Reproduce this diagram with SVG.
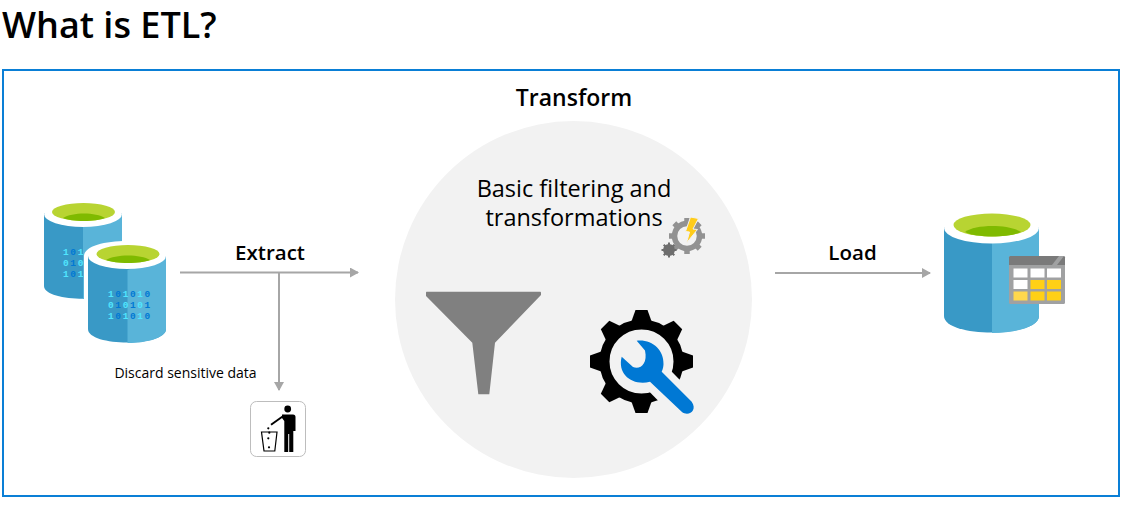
<svg xmlns="http://www.w3.org/2000/svg" xmlns:xlink="http://www.w3.org/1999/xlink" width="1128" height="507" viewBox="0 0 1128 507">
<style>
text{font-family:"Open Sans","Noto Sans","Liberation Sans",sans-serif;fill:#000}
.c{text-anchor:middle}
.lbl{font-size:20.5px;font-weight:600}
.body{font-size:23.500px}
.bin{font-family:"Liberation Mono",monospace;font-size:9.500px;font-weight:700;letter-spacing:1.600px;fill:#50e6ff}
.b{fill:#0078d4}
.conn{stroke:#a6a6a6;stroke-width:2;fill:none}
</style>
<defs>
<marker id="arr" markerUnits="userSpaceOnUse" markerWidth="9" markerHeight="10" refX="8" refY="5" orient="auto"><path d="M0 0L9 5L0 10z" fill="#a6a6a6"/></marker>
</defs>
<rect width="1128" height="507" fill="#fff"/>
<text id="title" x="2" y="38" font-size="36" font-weight="600">What is ETL?</text>
<rect id="frame" x="3" y="70" width="1116" height="426" fill="none" stroke="#0a7fd6" stroke-width="2"/>
<g id="transform">
<circle cx="573.500" cy="299.500" r="178.500" fill="#f2f2f2"/>
<text class="c" x="574" y="106" font-size="23" font-weight="600">Transform</text>
<text class="c body" x="574" y="197">Basic filtering and</text>
<text class="c body" x="574" y="226">transformations</text>
</g>
<g id="funnel"><path d="M426.500 291.700H540.300Q541 291.700 541 293V295L495 342.700L489.300 394.300H478.300L472.300 342.700L426 296V293Q426 291.700 426.500 291.700z" fill="#808080"/></g>
<g id="gear-tools">
<g fill="#000">
<circle cx="641.500" cy="361.500" r="37" fill="none" stroke="#000" stroke-width="10"/>
<path id="tooth" d="M630.500 324L635.500 310H647.500L652.500 324z"/>
<use xlink:href="#tooth" href="#tooth" transform="rotate(45 641.500 361.500)"/>
<use xlink:href="#tooth" href="#tooth" transform="rotate(90 641.500 361.500)"/>
<use xlink:href="#tooth" href="#tooth" transform="rotate(135 641.500 361.500)"/>
<use xlink:href="#tooth" href="#tooth" transform="rotate(180 641.500 361.500)"/>
<use xlink:href="#tooth" href="#tooth" transform="rotate(225 641.500 361.500)"/>
<use xlink:href="#tooth" href="#tooth" transform="rotate(270 641.500 361.500)"/>
<use xlink:href="#tooth" href="#tooth" transform="rotate(315 641.500 361.500)"/>
</g>
<path d="M655 376L700 422" stroke="#f2f2f2" stroke-width="30" fill="none"/>
<path d="M636.700 340.700C652 339 664 350 663.500 364C663.400 366.500 663 369 661.700 371.700L691.700 401.700C698 411 688 417 681.700 411.700L650 381.700C633 386 617 375 621.700 356.700L633 367C640 370 648 364 645 350.500z" fill="#0078d4"/>
</g>
<g id="automation">
<g fill="none" stroke="#929292">
<circle cx="687" cy="236" r="12.500" stroke-width="5.500"/>
<path d="M687 218V223M687 249V254M669 236H674M700 236H705M674.300 223.300L678 227M696 245L699.700 248.700M674.300 248.700L678 245M696 227L699.700 223.300" stroke-width="5.500"/>
</g>
<g fill="none" stroke="#6e6e6e">
<circle cx="669" cy="250" r="4.200" stroke-width="3.500"/>
<path d="M669 242.500V257.500M661.500 250H676.500M663.700 244.700L674.300 255.300M663.700 255.300L674.300 244.700" stroke-width="2"/>
</g>
<path d="M690.500 217L698.500 218.500L693 229L697.500 229.500L686.500 243L689.500 232L685.500 231.500z" fill="#ffcc1a" stroke="#f2f2f2" stroke-width="1"/>
</g>
<g id="source-db">
<path d="M44 213V286C44 303 122 303 122 286V213z" fill="#3999c6"/>
<path d="M83 227V299C105 299 122 294 122 286V213z" fill="#59b4d9"/>
<text class="bin" y="255" x="63">1<tspan class="b">0</tspan>1</text>
<text class="bin" y="266" x="63">0<tspan class="b">1</tspan>0</text>
<text class="bin" y="277" x="63">1<tspan class="b">0</tspan>1</text>
<ellipse cx="83" cy="214" rx="39" ry="13" fill="#fff"/>
<ellipse cx="83.500" cy="212" rx="31.500" ry="9" fill="#b8d432"/>
<path d="M63 218C72 212 96 212 105 218C96 222 72 222 63 218z" fill="#7fba00"/>
<path d="M84 256V330C84 350 170 350 170 330V256C170 236 84 236 84 256z" fill="#fff"/>
<path d="M88 256V329C88 347 166 347 166 329V256z" fill="#3999c6"/>
<path d="M127.500 270V343C149 343 166 337 166 329V256z" fill="#59b4d9"/>
<text class="bin" y="297" x="108">1<tspan class="b">0</tspan>1<tspan class="b">0</tspan>1<tspan class="b">0</tspan></text>
<text class="bin" y="308" x="108">0<tspan class="b">1</tspan>0<tspan class="b">1</tspan>0<tspan class="b">1</tspan></text>
<text class="bin" y="319" x="108">1<tspan class="b">0</tspan>1<tspan class="b">0</tspan>1<tspan class="b">0</tspan></text>
<ellipse cx="127" cy="256" rx="39" ry="13" fill="#fff"/>
<ellipse cx="128" cy="254" rx="31.500" ry="9" fill="#b8d432"/>
<path d="M106 260C115 254 141 254 150 260C141 264 115 264 106 260z" fill="#7fba00"/>
</g>
<g id="target-db">
<path d="M944 227V316C944 338 1039 338 1039 316V227z" fill="#3999c6"/>
<path d="M992 243V333C1018 333 1039 326 1039 316V227z" fill="#59b4d9"/>
<ellipse cx="991.500" cy="228" rx="47.500" ry="15.500" fill="#fff"/>
<ellipse cx="992" cy="225" rx="38.500" ry="11.500" fill="#b8d432"/>
<path d="M965 232C975 224 1009 224 1021 232C1009 238 975 238 965 232z" fill="#7fba00"/>
<rect x="1009" y="256" width="56" height="48" rx="1.500" fill="#a0a1a2"/>
<path d="M1009 265V257.500Q1009 256 1010.500 256H1063.500Q1065 256 1065 257.500V265z" fill="#7a7a7a"/>
<path d="M1052 265L1059 256H1064L1057 265z" fill="#a0a1a2"/>
<g fill="#fff"><rect x="1013.500" y="268.500" width="14" height="9"/><rect x="1030.500" y="268.500" width="14" height="9"/><rect x="1047" y="268.500" width="14" height="9"/><rect x="1013.500" y="280" width="14" height="9"/></g>
<g fill="#ffd016"><rect x="1030.500" y="280" width="14" height="9"/><rect x="1047" y="280" width="14" height="9"/><rect x="1013.500" y="291.500" width="14" height="9" fill="#ffd84d"/><rect x="1030.500" y="291.500" width="14" height="9"/><rect x="1047" y="291.500" width="14" height="9"/></g>
</g>
<g id="trash">
<rect x="250.500" y="401.500" width="55" height="55" rx="6" fill="#fff" stroke="#bdbdbd"/>
<circle cx="287.700" cy="409" r="3.400" fill="#000"/>
<path d="M282 414.500H293Q295.500 414.500 295.500 417V431H293.300V452H289.200V434H288.200V452H284.300V421L282 418z" fill="#000"/>
<path d="M284 415.500L271 424.800" fill="none" stroke="#000" stroke-width="2"/>
<path d="M261.500 432H277L274.800 451H264z" fill="none" stroke="#000" stroke-width="1.200"/>
<g fill="#000"><circle cx="268.300" cy="428.300" r="1.100"/><circle cx="269.300" cy="432.700" r="1.100"/><circle cx="268.300" cy="438.300" r="1.100"/><circle cx="269" cy="447.300" r="1.100"/></g>
</g>
<g id="connectors">
<path class="conn" d="M180 272.500H358" marker-end="url(#arr)"/>
<path class="conn" d="M279 272.500V390" marker-end="url(#arr)"/>
<path class="conn" d="M775 273H930" marker-end="url(#arr)"/>
</g>
<text class="c lbl" x="270" y="260">Extract</text>
<text class="c lbl" x="852.500" y="260">Load</text>
<text class="c" x="185.500" y="378" font-size="14">Discard sensitive data</text>
</svg>
